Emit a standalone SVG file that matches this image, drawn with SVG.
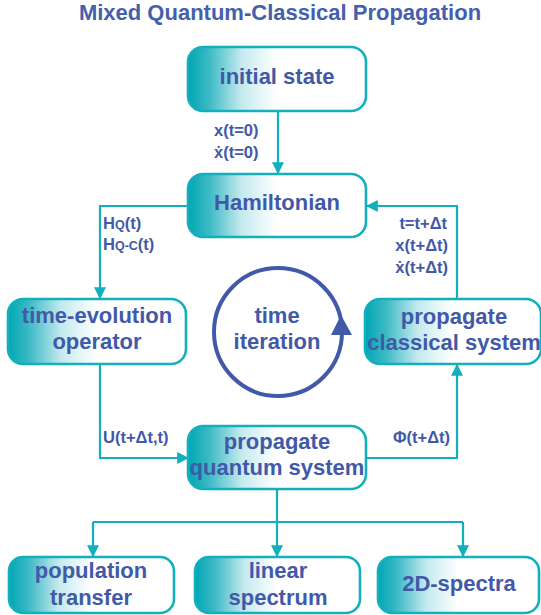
<svg xmlns="http://www.w3.org/2000/svg" width="541" height="615" viewBox="0 0 541 615">
<defs>
<linearGradient id="g" x1="0" y1="0" x2="1" y2="0">
<stop offset="0" stop-color="#00a6b3"/>
<stop offset="0.12" stop-color="#3dbac5"/>
<stop offset="0.3" stop-color="#c4eaee"/>
<stop offset="0.5" stop-color="#ffffff"/>
<stop offset="1" stop-color="#ffffff"/>
</linearGradient>
<marker id="a" viewBox="0 0 10 10" refX="9" refY="5" markerWidth="12" markerHeight="12" orient="auto" markerUnits="userSpaceOnUse">
<path d="M0,0 L10,5 L0,10 z" fill="#12afbd"/>
</marker>
<style>
.box{fill:url(#g);stroke:#12afbd;stroke-width:2.6}
.t{font-family:"Liberation Sans",Arial,sans-serif;font-weight:bold;fill:#4159a8;font-size:22px;text-anchor:middle}
.l{font-family:"Liberation Sans","DejaVu Sans",Arial,sans-serif;font-weight:bold;fill:#4159a8;font-size:16.5px}
.c{fill:none;stroke:#12afbd;stroke-width:2.2}
</style>
</defs>
<text class="t" x="280" y="20" style="font-size:22px;fill:#4460ab">Mixed Quantum-Classical Propagation</text>

<g id="connectors">
<path class="c" d="M278,111 V173" marker-end="url(#a)"/>
<path class="c" d="M188,206 H100 V298" marker-end="url(#a)"/>
<path class="c" d="M100,364 V458 H188" marker-end="url(#a)"/>
<path class="c" d="M366,458 H457 V365" marker-end="url(#a)"/>
<path class="c" d="M457,299 V206 H367" marker-end="url(#a)"/>
<path class="c" d="M277,490 V522"/>
<path class="c" d="M93,522 H463"/>
<path class="c" d="M93,522 V556" marker-end="url(#a)"/>
<path class="c" d="M277,522 V556" marker-end="url(#a)"/>
<path class="c" d="M463,522 V556" marker-end="url(#a)"/>
</g>

<g id="labels">
<text class="l" x="214" y="136">x(t=0)</text>
<text class="l" x="214" y="158">ẋ(t=0)</text>
<text class="l" x="103" y="229">H<tspan font-size="12.5">Q</tspan>(t)</text>
<text class="l" x="103" y="250">H<tspan font-size="12.5">Q-C</tspan>(t)</text>
<text class="l" x="103" y="443">U(t+Δt,t)</text>
<text class="l" x="450" y="443" text-anchor="end">Φ(t+Δt)</text>
<text class="l" x="447" y="229" text-anchor="end">t=t+Δt</text>
<text class="l" x="448" y="251" text-anchor="end">x(t+Δt)</text>
<text class="l" x="448" y="273" text-anchor="end">ẋ(t+Δt)</text>
</g>

<g id="initial-state">
<rect class="box" x="188" y="47" width="178" height="64" rx="15"/>
<text class="t" x="277" y="84">initial state</text>
</g>
<g id="hamiltonian">
<rect class="box" x="188" y="174" width="178" height="63" rx="15"/>
<text class="t" x="277" y="210">Hamiltonian</text>
</g>
<g id="time-evolution">
<rect class="box" x="8" y="299" width="178" height="65" rx="15"/>
<text class="t" x="97" y="323">time-evolution</text>
<text class="t" x="97" y="349">operator</text>
</g>
<g id="classical">
<rect class="box" x="365" y="299" width="176" height="65" rx="15"/>
<text class="t" x="454" y="324">propagate</text>
<text class="t" x="454" y="350">classical system</text>
</g>
<g id="quantum">
<rect class="box" x="188" y="426" width="178" height="63" rx="15"/>
<text class="t" x="277" y="449">propagate</text>
<text class="t" x="277" y="475">quantum system</text>
</g>
<g id="time-iteration">
<circle cx="278" cy="332" r="64" fill="none" stroke="#4159a8" stroke-width="4"/>
<path d="M331,335 L341,315 L352,335 z" fill="#4159a8"/>
<text class="t" x="277" y="323">time</text>
<text class="t" x="277" y="349">iteration</text>
</g>
<g id="population">
<rect class="box" x="9" y="557" width="165" height="56" rx="14"/>
<text class="t" x="91" y="578">population</text>
<text class="t" x="91" y="605">transfer</text>
</g>
<g id="linear">
<rect class="box" x="195" y="557" width="165" height="56" rx="14"/>
<text class="t" x="278" y="578">linear</text>
<text class="t" x="278" y="605">spectrum</text>
</g>
<g id="spectra2d">
<rect class="box" x="378" y="557" width="161" height="56" rx="14"/>
<text class="t" x="459" y="591">2D-spectra</text>
</g>
</svg>
